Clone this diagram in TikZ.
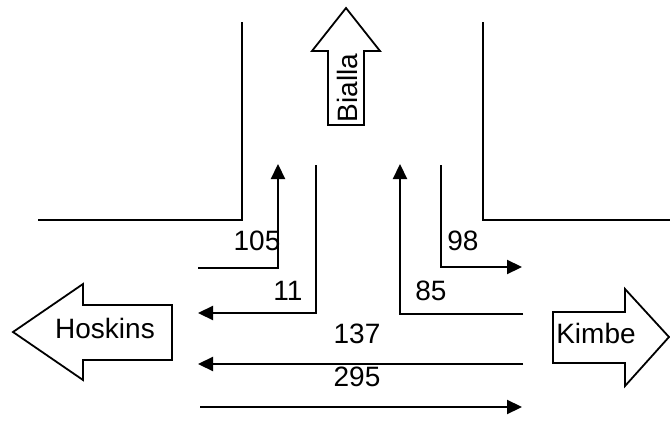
\documentclass[tikz,border=0pt]{standalone}
\usepackage{fontspec}
\setmainfont{Liberation Sans}
\usetikzlibrary{arrows.meta}
\begin{document}
\begin{tikzpicture}[x=1pt,y=-1pt,
  road/.style={line width=2.4pt},
  flow/.style={line width=2.2pt,-{Triangle[length=15pt,width=14pt]}},
  bigarrow/.style={draw,line width=1.8pt,line join=miter,fill=white},
  lbl/.style={font=\fontsize{28}{32}\selectfont,inner sep=0pt},
]
\useasboundingbox (0,0) rectangle (670,439);
% road edges
\draw[road] (242,22) -- (242,220) -- (38,220);
\draw[road] (483,22) -- (483,220) -- (670,220);
% Bialla arrow
\draw[bigarrow] (346,8) -- (380,51) -- (364,51) -- (364,125) -- (328,125) -- (328,51) -- (312,51) -- cycle;
\node[lbl,rotate=90] (bialla) at (347,88) {Bialla};
% Hoskins arrow
\draw[bigarrow] (13,332) -- (83,284) -- (83,305) -- (172,305) -- (172,360) -- (83,360) -- (83,380) -- cycle;
\node[lbl] (hoskins) at (105,328) {Hoskins};
% Kimbe arrow
\draw[bigarrow] (553,312) -- (625,312) -- (625,289) -- (669,337) -- (625,386) -- (625,363) -- (553,363) -- cycle;
\node[lbl] (kimbe) at (596,333) {Kimbe};
% flows
\coordinate (a105s) at (198,268);
\coordinate (a105c) at (278,268);
\coordinate (a105e) at (278,164);
\draw[flow] (a105s) -- (a105c) -- (a105e);
\node[lbl] (l105) at (257,241) {105};
\coordinate (a11s) at (316,165);
\coordinate (a11c) at (316,313);
\coordinate (a11e) at (198,313);
\draw[flow] (a11s) -- (a11c) -- (a11e);
\node[lbl] (l11) at (288,291) {11};
\coordinate (a85s) at (523,314);
\coordinate (a85c) at (400,314);
\coordinate (a85e) at (400,164);
\draw[flow] (a85s) -- (a85c) -- (a85e);
\node[lbl] (l85) at (431,291) {85};
\coordinate (a98s) at (441,165);
\coordinate (a98c) at (441,267);
\coordinate (a98e) at (522,267);
\draw[flow] (a98s) -- (a98c) -- (a98e);
\node[lbl] (l98) at (463,241) {98};
\coordinate (a137s) at (523,364);
\coordinate (a137e) at (198,364);
\draw[flow] (a137s) -- (a137e);
\node[lbl] (l137) at (357,334) {137};
\coordinate (a295s) at (200,407);
\coordinate (a295e) at (522,407);
\draw[flow] (a295s) -- (a295e);
\node[lbl] (l295) at (357,377) {295};
\end{tikzpicture}
\end{document}
